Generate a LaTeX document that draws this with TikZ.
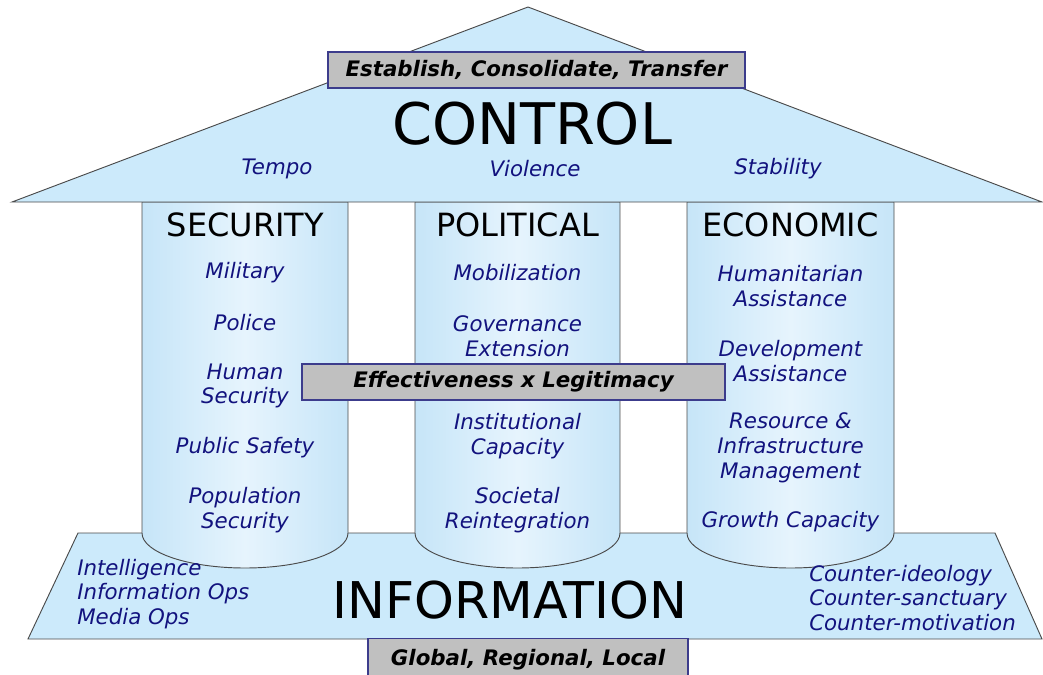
\documentclass[tikz,border=0pt]{standalone}
\usepackage{fontspec}
\setmainfont{DejaVu Sans}

\definecolor{roofblue}{HTML}{CCEAFB}
\definecolor{pillaredge}{HTML}{C6E5F8}
\definecolor{pillarmid}{HTML}{E6F4FD}
\definecolor{boxgrey}{HTML}{C0C0C0}
\definecolor{boxline}{HTML}{3C3C8C}
\definecolor{itemnavy}{HTML}{12127E}
\definecolor{edgegrey}{HTML}{4A4A4A}

\tikzset{
  outline/.style={draw=edgegrey, line width=0.7pt, fill=roofblue},
  pillar/.style={draw=edgegrey, line width=0.7pt, left color=pillaredge, right color=pillaredge, middle color=pillarmid},
  banner/.style={draw=boxline, line width=0.8pt, fill=boxgrey, inner sep=0pt,
    font=\bfseries\itshape\fontsize{16}{19}\selectfont},
  heading/.style={font=\fontsize{24}{28}\selectfont},
  item/.style={font=\itshape\fontsize{16}{18.6}\selectfont, text=itemnavy, align=center, inner sep=0pt},
  sideitem/.style={item, align=left, anchor=west},
}

\begin{document}
\begin{tikzpicture}[x=0.75pt, y=-0.75pt]
            \useasboundingbox (0,0) rectangle (1043,675);
            \clip (0,0) rectangle (1043,675);

            % base
            \path[outline] (78,533) -- (995,533) -- (1042,639) -- (28,639) -- cycle;

            % pillars
            \path[pillar] (142,202) -- (142,533) arc[start angle=180, end angle=0, x radius=103, y radius=35] -- (348,202) -- cycle;
            \path[pillar] (415,202) -- (415,533) arc[start angle=180, end angle=0, x radius=102.5, y radius=35] -- (620,202) -- cycle;
            \path[pillar] (687,202) -- (687,533) arc[start angle=180, end angle=0, x radius=103.5, y radius=35] -- (894,202) -- cycle;

            % roof
            \path[outline] (12,202) -- (528,7) -- (1042,202) -- cycle;

            \node[banner, minimum width=312.75pt, minimum height=27pt] (establish) at (536.5,70) {Establish, Consolidate, Transfer};
            \node[font=\fontsize{43}{50}\selectfont] (control) at (532,124) {CONTROL};
            \node[item] (tempo) at (277,169) {Tempo};
            \node[item] (violence) at (535,169) {Violence};
            \node[item] (stability) at (778,169) {Stability};

            % security
            \node[heading] (security) at (245.5,225) {SECURITY};
            \node[item] (military) at (245,273) {Military};
            \node[item] (police) at (245,323) {Police};
            \node[item] (human) at (245,386) {Human\\Security};
            \node[item] (safety) at (245,448) {Public Safety};
            \node[item] (population) at (245,510) {Population\\Security};

            % political
            \node[heading] (political) at (517.5,225) {POLITICAL};
            \node[item] (mobilization) at (517.5,273) {Mobilization};
            \node[item] (governance) at (517.5,336) {Governance\\Extension};
            \node[item] (institutional) at (517.5,436) {Institutional\\Capacity};
            \node[item] (societal) at (517.5,510) {Societal\\Reintegration};

            % economic
            \node[heading] (economic) at (790.5,225) {ECONOMIC};
            \node[item] (humanitarian) at (790.5,286) {Humanitarian\\Assistance};
            \node[item] (development) at (790.5,361) {Development\\Assistance};
            \node[item] (resource) at (790.5,448) {Resource \&\\Infrastructure\\Management};
            \node[item] (growth) at (790.5,522) {Growth Capacity};

            \node[banner, minimum width=317.25pt, minimum height=27pt] (effect) at (513.5,382) {Effectiveness x Legitimacy};

            % information
            \node[font=\fontsize{38}{44}\selectfont] (information) at (510,600) {INFORMATION};
            \node[sideitem] (intel) at (77,594) {Intelligence\\Information Ops\\Media Ops};
            \node[sideitem] (counter) at (809,598) {Counter-ideology\\Counter-sanctuary\\Counter-motivation};
            \node[banner, minimum width=240pt, minimum height=32pt] (scope) at (528,660) {Global, Regional, Local};
        \end{tikzpicture}
\end{document}
